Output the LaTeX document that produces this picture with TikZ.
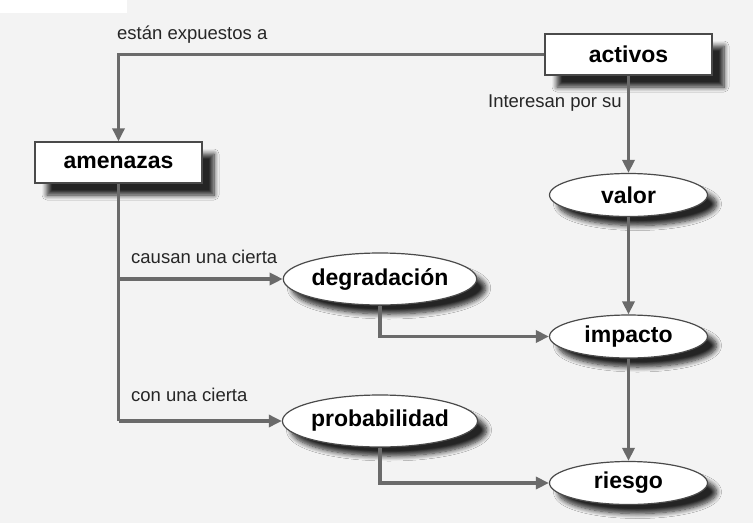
\documentclass[tikz,border=0pt]{standalone}
\usepackage{fontspec}
\setmainfont{Liberation Sans}
\usetikzlibrary{shapes.geometric,arrows.meta,shadows.blur}
\definecolor{bg}{HTML}{F3F3F3}
\definecolor{linec}{HTML}{6A6A6A}
\definecolor{edgec}{HTML}{4A4A4A}
\tikzset{
  boxnode/.style={draw=edgec,line width=1.4pt,fill=white,minimum width=167pt,minimum height=41pt,inner sep=0pt,
    font=\fontsize{23}{26}\selectfont\bfseries,
    blur shadow={shadow xshift=12pt,shadow yshift=-12pt,shadow blur radius=5pt,shadow blur steps=8,shadow opacity=85}},
  ellnode/.style={ellipse,draw=edgec,line width=1.2pt,fill=white,inner sep=0pt,
    font=\fontsize{23}{26}\selectfont\bfseries,
    blur shadow={shadow xshift=9pt,shadow yshift=-9pt,shadow blur radius=5pt,shadow blur steps=8,shadow opacity=85}},
  smallell/.style={ellnode,minimum width=158pt,minimum height=43pt},
  bigell/.style={ellnode,minimum width=186pt,minimum height=52pt},
  conn/.style={draw=linec,line width=3.2pt,-{Triangle[length=13pt,width=12pt]}},
  plain/.style={draw=linec,line width=3.2pt},
  lbl/.style={font=\fontsize{18.5}{21}\selectfont,text=black!85,inner sep=0pt}
}
\begin{document}
\begin{tikzpicture}[x=1pt,y=-1pt]
\fill[bg] (0,0) rectangle (753,523);
\fill[white] (0,0) rectangle (127,13);
\useasboundingbox (0,0) rectangle (753,523);
\node[boxnode] (activos) at (628.5,54.5) {activos};
\node[boxnode] (amenazas) at (118.5,162.5) {amenazas};
\node[smallell] (valor) at (628.5,195) {valor};
\node[bigell] (degradacion) at (380,279) {degradación};
\node[smallell] (impacto) at (628.5,336.5) {impacto};
\node[bigell] (probabilidad) at (380,421) {probabilidad};
\node[smallell] (riesgo) at (628.5,483) {riesgo};
\coordinate (b1) at (amenazas.south |- degradacion.west);
\coordinate (b2) at (amenazas.south |- probabilidad.west);
\draw[conn] (activos.west) -| (amenazas.north);
\draw[conn] (activos.south) -- (valor.north);
\draw[conn] (valor.south) -- (impacto.north);
\draw[conn] (impacto.south) -- (riesgo.north);
\draw[plain] (amenazas.south) -- (b2);
\draw[conn] (b1) -- (degradacion.west);
\draw[conn] (b2) -- (probabilidad.west);
\draw[conn] (degradacion.south) |- (impacto.west);
\draw[conn] (probabilidad.south) |- (riesgo.west);
\node[lbl,anchor=west] (l1) at (117,35) {están expuestos a};
\node[lbl,anchor=east] (l2) at (622,103) {Interesan por su};
\node[lbl,anchor=west] (l3) at (131,257) {causan una cierta};
\node[lbl,anchor=west] (l4) at (131,395) {con una cierta};
\end{tikzpicture}
\end{document}
